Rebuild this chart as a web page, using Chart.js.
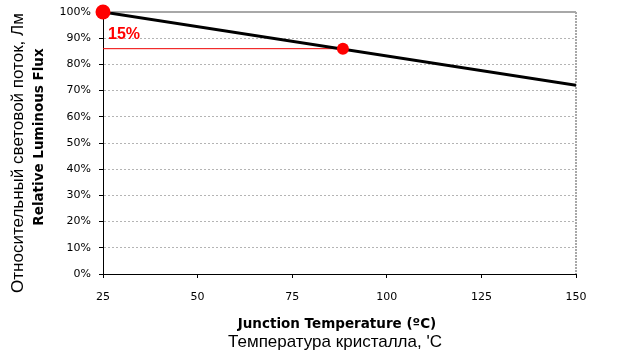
<!DOCTYPE html>
<html><head><meta charset="utf-8">
<script src="https://cdn.jsdelivr.net/npm/chart.js@4"></script>
<style>html,body{margin:0;padding:0;background:#fff}#w{width:640px;height:357px}</style>
</head><body><div id="w"><canvas id="c" width="640" height="357"></canvas></div>
<script>
const temps = [25, 150];
const flux = [100, 72];
const markerTemps = [25, 88.4];
const markerFlux = [100, 86];
const dropLabel = "15%";
const xTicks = [25, 50, 75, 100, 125, 150];
const yTicks = [0, 10, 20, 30, 40, 50, 60, 70, 80, 90, 100];
const xTitleEn = "Junction Temperature (ºC)";
const xTitleRu = "Температура кристалла, 'C";
const yTitleRu = "Относительный световой поток, Лм";
const yTitleEn = "Relative Luminous Flux";

const lineData = temps.map((t, i) => ({x: t, y: flux[i]}));
const markerData = markerTemps.map((t, i) => ({x: t, y: markerFlux[i]}));
const refLine = [{x: temps[0], y: markerFlux[1]}, {x: markerTemps[1], y: markerFlux[1]}];

const overlay = {
  id: 'overlay',
  beforeDatasetsDraw(chart) {
    const {ctx, chartArea: a} = chart;
    ctx.save();
    ctx.strokeStyle = '#a8a8a8'; ctx.lineWidth = 2;
    ctx.beginPath(); ctx.moveTo(a.left, a.top); ctx.lineTo(a.right, a.top); ctx.stroke();
    ctx.setLineDash([2, 1]);
    ctx.beginPath(); ctx.moveTo(a.right, a.top); ctx.lineTo(a.right, a.bottom); ctx.stroke();
    ctx.restore();
  },
  afterDatasetsDraw(chart) {
    const {ctx, scales: {x, y}} = chart;
    ctx.save();
    ctx.fillStyle = '#ff0000';
    ctx.font = 'bold 16px "Liberation Sans", Arial, sans-serif';
    ctx.textBaseline = 'middle'; ctx.textAlign = 'left';
    ctx.fillText(dropLabel, x.getPixelForValue(temps[0]) + 5, y.getPixelForValue(91.2));
    ctx.restore();
  },
  afterDraw(chart) {
    const {ctx} = chart;
    ctx.save();
    ctx.fillStyle = '#000';
    ctx.textAlign = 'center'; ctx.textBaseline = 'middle';
    ctx.font = 'bold 13.5px "DejaVu Sans", Verdana, sans-serif';
    ctx.fillText(xTitleEn, 337, 324);
    ctx.font = '17px "Liberation Sans", Arial, sans-serif';
    ctx.fillText(xTitleRu, 335, 342);
    ctx.translate(18, 153); ctx.rotate(-Math.PI / 2);
    ctx.font = '17px "Liberation Sans", Arial, sans-serif';
    ctx.fillText(yTitleRu, 0, 0);
    ctx.restore();
    ctx.save();
    ctx.translate(39, 137); ctx.rotate(-Math.PI / 2);
    ctx.textAlign = 'center'; ctx.textBaseline = 'middle';
    ctx.font = 'bold 13.5px "DejaVu Sans", Verdana, sans-serif';
    ctx.fillStyle = '#000';
    ctx.fillText(yTitleEn, 0, 0);
    ctx.restore();
  }
};

new Chart(document.getElementById('c'), {
  type: 'scatter',
  data: {
    datasets: [
      {data: refLine, showLine: true, borderColor: '#ee0000', borderWidth: 1, pointRadius: 0, order: 3},
      {data: lineData, showLine: true, borderColor: '#000', borderWidth: 3, pointRadius: 0, order: 2},
      {data: markerData, showLine: false, backgroundColor: '#ff0000', borderColor: '#ff0000', borderWidth: 0,
       pointRadius: [7.5, 6], pointStyle: 'circle', order: 1, clip: false}
    ]
  },
  options: {
    responsive: false, animation: false,
    layout: {padding: {top: 12, right: 64, bottom: 0, left: 0}},
    plugins: {legend: {display: false}, tooltip: {enabled: false}},
    scales: {
      x: {
        type: 'linear', min: 25, max: 150,
        afterBuildTicks: s => { s.ticks = xTicks.map(v => ({value: v})); },
        afterFit: s => { s.height = 83; s.paddingLeft = 0; s.paddingRight = 0; },
        grid: {display: true, drawOnChartArea: false, tickLength: 4, tickColor: '#000'},
        border: {color: '#000', width: 1},
        ticks: {color: '#000', padding: 13, font: {family: '"DejaVu Sans", Verdana, sans-serif', size: 11}}
      },
      y: {
        min: 0, max: 100,
        afterBuildTicks: s => { s.ticks = yTicks.map(v => ({value: v})); },
        afterFit: s => { s.width = 103; s.paddingTop = 0; s.paddingBottom = 0; },
        grid: {color: '#b4b4b4', tickColor: '#000', tickLength: 4, lineWidth: 1, tickBorderDash: []},
        border: {color: '#000', width: 1, dash: [2, 2]},
        ticks: {color: '#000', padding: 8, callback: v => v + '%', font: {family: '"DejaVu Sans", Verdana, sans-serif', size: 11}}
      }
    }
  },
  plugins: [overlay]
});
</script>
</body></html>
